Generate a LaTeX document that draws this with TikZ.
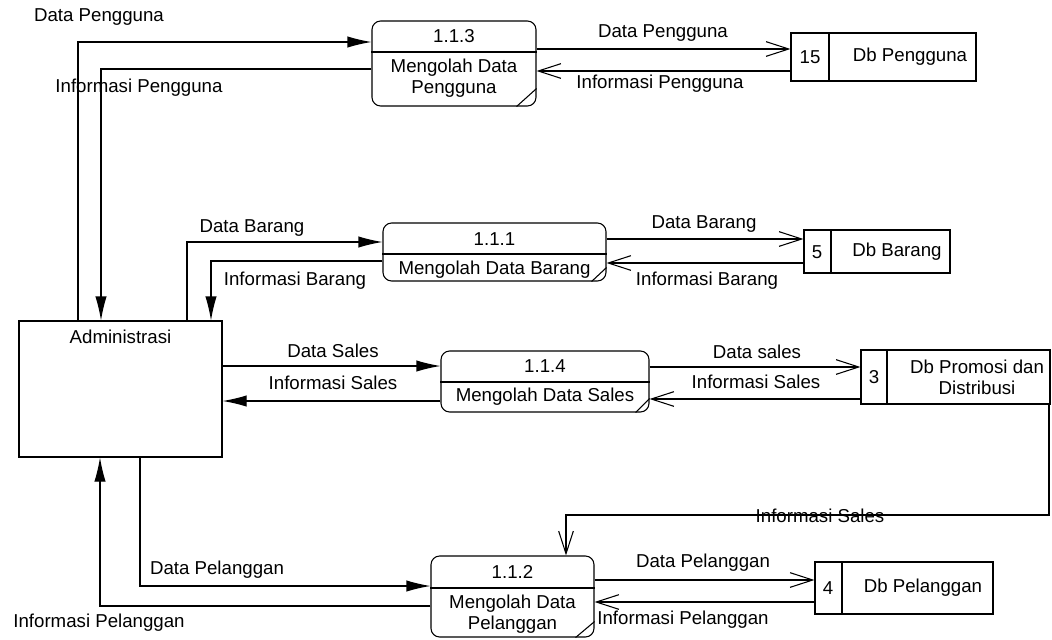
\documentclass[tikz,border=0pt]{standalone}
\usepackage{fontspec}
\setmainfont{Liberation Sans}
\usetikzlibrary{arrows.meta,calc}

\tikzset{
  proc/.style={draw, rounded corners=6.5pt, line width=0.8pt, inner sep=0pt},
  store/.style={draw, line width=0.8pt, inner sep=0pt},
  flow/.style={line width=0.8pt, -{Latex[length=18pt,width=8.5pt]}},
  dbflow/.style={line width=0.8pt, -{Straight Barb[length=17pt,width=11pt]}},
  sep/.style={line width=0.8pt}
}

\begin{document}
\begin{tikzpicture}[x=0.75pt,y=0.75pt,yscale=-1,xscale=1,every node/.style={font=\fontsize{14}{15.75}\selectfont}]
\path [use as bounding box] (0,0) rectangle (1052,639);

%Shape: Entity [id:adm]
\node [store, minimum width=152.25pt, minimum height=102pt] (adm) at (120.5,389) {};
\node (admt) at (120.5,337) {Administrasi};

%Shape: Process 1.1.3
\node [proc, minimum width=123pt, minimum height=63.75pt] (p113) at (454,63.5) {};
\draw [sep] (p113.west |- 0,52) -- (p113.east |- 0,52);
\draw [sep] ($(p113.south east)+(-20,0)$) -- ($(p113.south east)+(0,-18)$);
\node (n113) at (454,36) {1.1.3};
\node [align=center] (t113) at (454,78.5) {Mengolah Data\\Pengguna};

%Shape: Process 1.1.1
\node [proc, minimum width=167.25pt, minimum height=43.5pt] (p111) at (494.5,252) {};
\draw [sep] (p111.west |- 0,254) -- (p111.east |- 0,254);
\draw [sep] ($(p111.south east)+(-15,0)$) -- ($(p111.south east)+(0,-14)$);
\node (n111) at (494.5,239) {1.1.1};
\node (t111) at (494.5,270) {Mengolah Data Barang};

%Shape: Process 1.1.4
\node [proc, minimum width=156pt, minimum height=45.75pt] (p114) at (545,381.5) {};
\draw [sep] (p114.west |- 0,382) -- (p114.east |- 0,382);
\draw [sep] ($(p114.south east)+(-14,0)$) -- ($(p114.south east)+(0,-14)$);
\node (n114) at (545,366) {1.1.4};
\node (t114) at (545,397) {Mengolah Data Sales};

%Shape: Process 1.1.2
\node [proc, minimum width=122.25pt, minimum height=60.75pt] (p112) at (512.5,596.5) {};
\draw [sep] (p112.west |- 0,588) -- (p112.east |- 0,588);
\draw [sep] ($(p112.south east)+(-19,0)$) -- ($(p112.south east)+(0,-16)$);
\node (n112) at (512.5,572) {1.1.2};
\node [align=center] (t112) at (512.5,614) {Mengolah Data\\Pelanggan};

%Shape: Data stores
\node [store, minimum width=138.75pt, minimum height=36pt] (s15) at (883.5,57) {};
\draw [sep] (829,0 |- s15.north) -- (829,0 |- s15.south);
\node (n15) at (810,57) {15};
\node (t15) at (910,57) {Db Pengguna};

\node [store, minimum width=109.5pt, minimum height=32.25pt] (s5) at (877,251.5) {};
\draw [sep] (831,0 |- s5.north) -- (831,0 |- s5.south);
\node (n5) at (817,252) {5};
\node (t5) at (897,252) {Db Barang};

\node [store, minimum width=141.75pt, minimum height=40.5pt] (s3) at (955.5,377) {};
\draw [sep] (887,0 |- s3.north) -- (887,0 |- s3.south);
\node (n3) at (874,377) {3};
\node [align=center] (t3) at (977,377.5) {Db Promosi dan\\Distribusi};

\node [store, minimum width=133.5pt, minimum height=39pt] (s4) at (904,588) {};
\draw [sep] (842,0 |- s4.north) -- (842,0 |- s4.south);
\node (n4) at (828,588) {4};
\node (t4) at (923,588) {Db Pelanggan};

%Straight Lines: flows with Administrasi
\draw [flow] (adm.north -| 78,0) |- (p113.west |- 0,42);
\draw [flow] (p113.west |- 0,69) -| (adm.north -| 101,0);
\draw [flow] (adm.north -| 187,0) |- (p111.west |- 0,242);
\draw [flow] (p111.west |- 0,261) -| (adm.north -| 211,0);
\draw [flow] (adm.east |- 0,366) -- (p114.west |- 0,366);
\draw [flow] (p114.west |- 0,401) -- (adm.east |- 0,401);
\draw [flow] (adm.south -| 140,0) |- (p112.west |- 0,586);
\draw [flow] (p112.west |- 0,606) -| (adm.south -| 100,0);

%Straight Lines: flows with data stores
\draw [dbflow] (p113.east |- 0,49) -- (s15.west |- 0,49);
\draw [dbflow] (s15.west |- 0,71) -- (p113.east |- 0,71);
\draw [dbflow] (p111.east |- 0,239) -- (s5.west |- 0,239);
\draw [dbflow] (s5.west |- 0,263) -- (p111.east |- 0,263);
\draw [dbflow] (p114.east |- 0,367) -- (s3.west |- 0,367);
\draw [dbflow] (s3.west |- 0,399) -- (p114.east |- 0,399);
\draw [dbflow] (p112.east |- 0,580) -- (s4.west |- 0,580);
\draw [dbflow] (s4.west |- 0,602) -- (p112.east |- 0,602);
\coordinate (c3) at (566,515);
\draw [dbflow] (s3.south -| 1049,0) |- (c3) -- (p112.north -| c3);

% Text Node
\node (l1) at (99,17) {Data Pengguna};
\node (l2) at (139,88) {Informasi Pengguna};
\node (l3) at (663,33) {Data Pengguna};
\node (l4) at (660,84) {Informasi Pengguna};
\node (l5) at (252,228) {Data Barang};
\node (l6) at (295,281) {Informasi Barang};
\node (l7) at (704,224) {Data Barang};
\node (l8) at (707,281) {Informasi Barang};
\node (l9) at (333,351) {Data Sales};
\node (l10) at (333,383) {Informasi Sales};
\node (l11) at (757,352) {Data sales};
\node (l12) at (756,382) {Informasi Sales};
\node (l13) at (820,516) {Informasi Sales};
\node (l14) at (217,570) {Data Pelanggan};
\node (l15) at (99,623) {Informasi Pelanggan};
\node (l16) at (703,563) {Data Pelanggan};
\node (l17) at (683,620) {Informasi Pelanggan};

\end{tikzpicture}
\end{document}
